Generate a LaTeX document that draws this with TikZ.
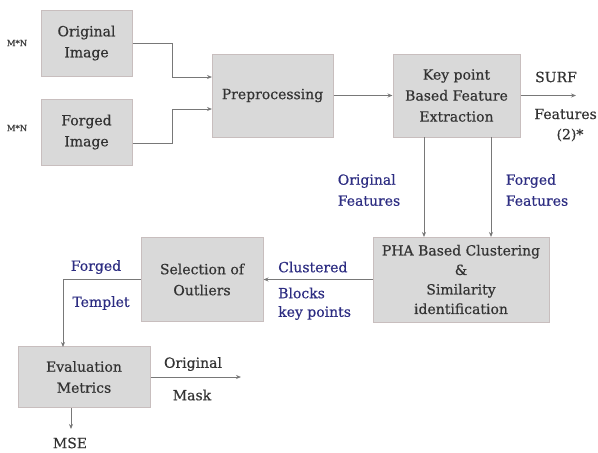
\documentclass[tikz,border=0pt]{standalone}
\usepackage{fontspec}
\setmainfont{DejaVu Serif}[FakeBold=0.5]
\usetikzlibrary{arrows.meta}
\definecolor{boxfill}{RGB}{217,217,217}
\definecolor{boxline}{RGB}{200,190,190}
\definecolor{linegray}{RGB}{120,120,120}
\definecolor{lblue}{RGB}{45,45,130}
\tikzset{
  blk/.style={draw=boxline, line width=1pt, fill=boxfill, inner sep=0pt, align=center,
    font=\fontsize{14}{21}\selectfont, text=black!80},
  conn/.style={draw=linegray, line width=1pt, -{Stealth[length=5pt,width=4pt]}},
  lbl/.style={font=\fontsize{14}{21}\selectfont, text=black!80, inner sep=0pt},
  blbl/.style={font=\fontsize{14}{21}\selectfont, text=lblue, inner sep=0pt},
  small/.style={font=\fontsize{8.5}{10}\selectfont, text=black!75, inner sep=0pt}
}
\begin{document}
\begin{tikzpicture}[x=1pt,y=-1pt]
\useasboundingbox (0,0) rectangle (598,453);
% boxes
\node[blk, minimum width=91pt, minimum height=66pt] (orig) at (86.5,43) {Original\\Image};
\node[blk, minimum width=91pt, minimum height=66pt] (forg) at (86.5,132) {Forged\\Image};
\node[blk, minimum width=121pt, minimum height=83pt] (pre) at (272.5,95.5) {Preprocessing};
\node[blk, minimum width=127pt, minimum height=83pt] (kp) at (456.5,95.5) {Key point\\Based Feature\\Extraction};
\node[blk, minimum width=176pt, minimum height=85pt, font=\fontsize{14}{19.5}\selectfont] (pha) at (461,279.5) {PHA Based Clustering\\\&\\Similarity\\identification};
\node[blk, minimum width=122pt, minimum height=84pt] (sel) at (202,279.5) {Selection of\\Outliers};
\node[blk, minimum width=132pt, minimum height=61pt] (ev) at (84,377) {Evaluation\\Metrics};
% coordinates
\coordinate (o1) at (172,43);
\coordinate (o2) at (172,77);
\coordinate (o3) at (212,77);
\coordinate (f1) at (172,143);
\coordinate (f2) at (172,109);
\coordinate (f3) at (212,109);
\coordinate (surf) at (576,95.5);
\coordinate (ta) at (424,137);
\coordinate (tb) at (424,237);
\coordinate (tc) at (491,137);
\coordinate (td) at (491,237);
\coordinate (corner) at (63,279.5);
\coordinate (evtop) at (63,347);
\coordinate (mask) at (241,377);
\coordinate (evb) at (71,408);
\coordinate (mse) at (71,429);
% connectors
\draw[conn] (orig.east |- o1) -- (o1) -- (o2) -- (o3);
\draw[conn] (forg.east |- f1) -- (f1) -- (f2) -- (f3);
\draw[conn] (pre.east) -- (kp.west);
\draw[conn] (kp.east) -- (surf);
\draw[conn] (ta) -- (tb);
\draw[conn] (tc) -- (td);
\draw[conn] (pha.west |- sel.east) -- (sel.east);
\draw[conn] (sel.west) -- (corner) -- (evtop);
\draw[conn] (ev.east) -- (mask);
\draw[conn] (evb) -- (mse);
% labels
\node[small] (mn1) at (17,43) {M*N};
\node[small] (mn2) at (17,128) {M*N};
\node[lbl] (surft) at (556,77) {SURF};
\node[lbl, anchor=east] (feat) at (597,114) {Features};
\node[lbl] (two) at (570,135) {(2)*};
\node[blbl, align=left] (ofeat) at (369,190) {Original\\Features};
\node[blbl, align=left] (ffeat) at (537,190) {Forged\\Features};
\node[blbl, anchor=west] (clu) at (278,267) {Clustered};
\node[blbl, anchor=west] (blo) at (278,293) {Blocks};
\node[blbl, anchor=west] (kpt) at (278,313) {key points};
\node[blbl] (ftp) at (96,267) {Forged};
\node[blbl] (tpl) at (101,303) {Templet};
\node[lbl] (origm) at (193,364) {Original};
\node[lbl] (maskt) at (192,395) {Mask};
\node[lbl] (mset) at (70,443) {MSE};
\end{tikzpicture}
\end{document}
